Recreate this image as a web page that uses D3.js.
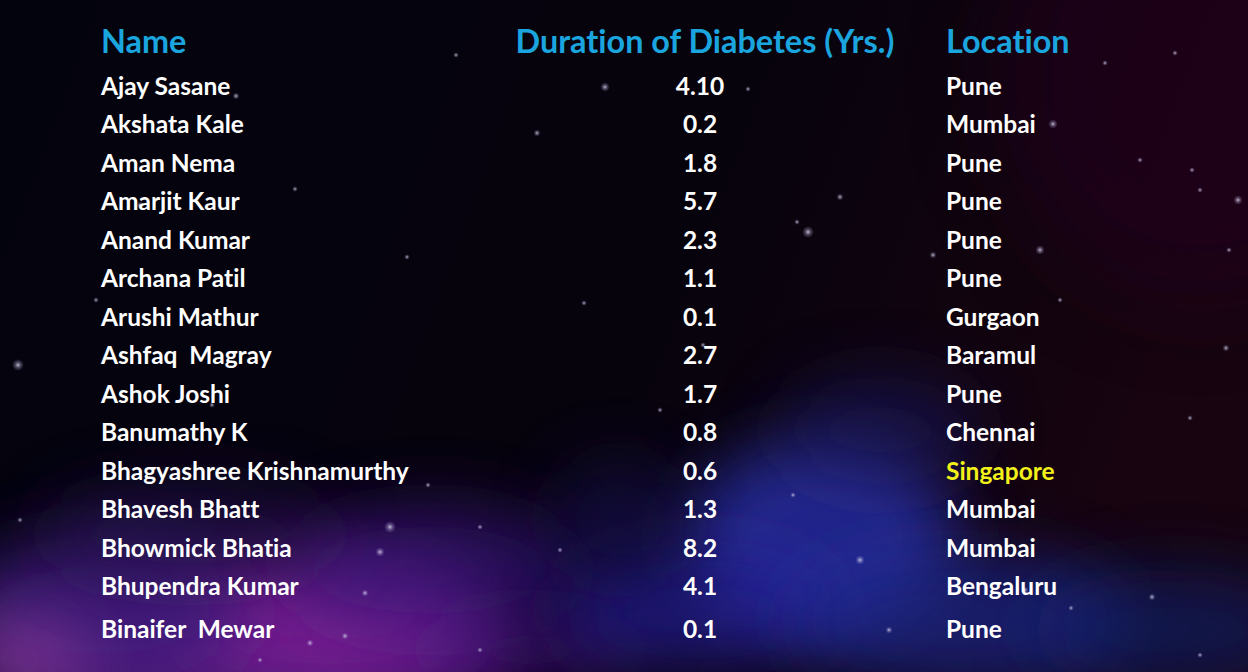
<!DOCTYPE html>
<html><head><meta charset="utf-8">
<script src="https://cdn.jsdelivr.net/npm/d3@7"></script>
<style>html,body{margin:0;padding:0;background:#05030d;overflow:hidden} text{font-variant-ligatures:none;font-feature-settings:"liga" 0}</style>
</head><body>
<svg id="chart" width="1248" height="672"></svg>
<script>
const headers = ["Name", "Duration of Diabetes (Yrs.)", "Location"];
const names = ["Ajay Sasane","Akshata Kale","Aman Nema","Amarjit Kaur","Anand Kumar","Archana Patil","Arushi Mathur","Ashfaq  Magray","Ashok Joshi","Banumathy K","Bhagyashree Krishnamurthy","Bhavesh Bhatt","Bhowmick Bhatia","Bhupendra Kumar","Binaifer  Mewar"];
const durations = ["4.10","0.2","1.8","5.7","2.3","1.1","0.1","2.7","1.7","0.8","0.6","1.3","8.2","4.1","0.1"];
const locations = ["Pune","Mumbai","Pune","Pune","Pune","Pune","Gurgaon","Baramul","Pune","Chennai","Singapore","Mumbai","Mumbai","Bengaluru","Pune"];
const highlightLocation = "Singapore";

const W = 1248, H = 672;
const svg = d3.select("#chart");
const defs = svg.append("defs");

// background
const bg = defs.append("linearGradient").attr("id","bgGrad").attr("x1","0").attr("y1","0").attr("x2","1").attr("y2","0.2");
bg.append("stop").attr("offset","0").attr("stop-color","#03030e");
bg.append("stop").attr("offset","0.6").attr("stop-color","#07030d");
bg.append("stop").attr("offset","1").attr("stop-color","#170410");
svg.append("rect").attr("width",W).attr("height",H).attr("fill","url(#bgGrad)");

defs.append("filter").attr("id","blurBig").attr("x","-60%").attr("y","-60%").attr("width","220%").attr("height","220%")
  .append("feGaussianBlur").attr("stdDeviation",45);
defs.append("filter").attr("id","blurMid").attr("x","-60%").attr("y","-60%").attr("width","220%").attr("height","220%")
  .append("feGaussianBlur").attr("stdDeviation",32);

const neb = svg.append("g");
neb.append("ellipse").attr("cx",1200).attr("cy",80).attr("rx",200).attr("ry",220).attr("fill","#24051a").attr("opacity",0.6).attr("filter","url(#blurBig)");
// purple nebula bottom-left
const purple = [
  [250,650,260,75,"#5e1a8a",0.9],
  [330,615,150,60,"#842496",0.8],
  [100,610,150,75,"#3c1a7a",0.8],
  [20,660,70,40,"#8a3a9a",0.7],
  [430,570,150,65,"#38167a",0.7],
  [530,650,110,40,"#44187e",0.6],
  [190,535,150,50,"#2a1258",0.6]
];
purple.forEach(p=>neb.append("ellipse").attr("cx",p[0]).attr("cy",p[1]).attr("rx",p[2]).attr("ry",p[3]).attr("fill",p[4]).attr("opacity",p[5]).attr("filter","url(#blurMid)"));
// blue nebula bottom right
const blue = [
  [820,535,135,95,"#2c30aa",0.8],
  [700,610,140,60,"#2824a0",0.65],
  [960,620,170,70,"#1a2a96",0.65],
  [1170,630,140,60,"#102070",0.6],
  [880,430,100,55,"#1a1a6c",0.5],
  [620,520,70,60,"#1e1866",0.45]
];
blue.forEach(p=>neb.append("ellipse").attr("cx",p[0]).attr("cy",p[1]).attr("rx",p[2]).attr("ry",p[3]).attr("fill",p[4]).attr("opacity",p[5]).attr("filter","url(#blurMid)"));

// stars (decorative, fixed positions)
const stars = [[18,365,2.5],[140,205,1.5],[236,96,1.5],[295,189,1.2],[390,527,2.5],[407,257,1.2],[456,55,1.2],[537,133,1.5],[584,303,1.2],[605,87,2],[748,89,1.2],[808,232,2.5],[840,197,1.5],[797,222,1.2],[1040,250,2],[1053,124,2],[1226,348,1.5],[1200,190,1.2],[1192,170,1.2],[1175,53,1.2],[1025,590,1.5],[960,392,1.2],[1000,440,1.2],[1152,597,1.5],[1071,608,1.2],[889,630,1.5],[1200,655,1.2],[345,636,1.5],[260,660,1.2],[310,643,1.5],[288,588,1.2],[365,593,1.5],[380,552,2],[428,485,1.2],[480,527,1.2],[20,520,1.2],[560,550,1.2],[480,650,1.2],[703,345,1.2],[933,255,1.5],[1060,300,1.2],[860,560,2],[793,495,1.2],[1229,250,1.2],[1190,418,1.2],[660,410,1.2],[96,300,1.2],[212,405,1.2],[1140,160,1.2],[1105,63,1.2],[1238,200,2]];
const starGrad = defs.append("radialGradient").attr("id","star");
starGrad.append("stop").attr("offset","0").attr("stop-color","#ffffff").attr("stop-opacity",0.75);
starGrad.append("stop").attr("offset","0.4").attr("stop-color","#c8c0e8").attr("stop-opacity",0.4);
starGrad.append("stop").attr("offset","1").attr("stop-color","#a090d0").attr("stop-opacity",0);
svg.append("g").selectAll("circle").data(stars).join("circle")
  .attr("cx",d=>d[0]).attr("cy",d=>d[1]).attr("r",d=>d[2]*2.4).attr("fill","url(#star)");

// layout scales
const col = d3.scaleOrdinal().domain(headers).range([101, 705, 946]);
const rowY = d3.scaleLinear().domain([0, names.length-2, names.length-1]).range([95, 595, 638]);

const font = "Lato, 'Open Sans', sans-serif";
const g = svg.append("g").attr("font-family", font);

g.selectAll("text.h").data(headers).join("text").attr("class","h")
  .attr("x", d=>col(d)).attr("y", 53)
  .attr("text-anchor", (d,i)=> i===1 ? "middle" : "start")
  .attr("font-size", 32.4).attr("font-weight", 700).attr("fill", "#1ba5df")
  .text(d=>d);

const rows = names.map((n,i)=>({name:n, dur:durations[i], loc:locations[i], i}));
const rg = g.selectAll("g.row").data(rows).join("g").attr("class","row")
  .attr("transform", d=>`translate(0,${rowY(d.i)})`)
  .attr("font-size", 24.5).attr("font-weight", 700);
rg.append("text").attr("x", col(headers[0])).attr("fill","#ffffff").attr("xml:space","preserve").style("white-space","pre").text(d=>d.name);
rg.append("text").attr("x", 700).attr("text-anchor","middle").attr("fill","#ffffff").text(d=>d.dur);
rg.append("text").attr("x", col(headers[2])).attr("fill", d=>d.loc===highlightLocation ? "#f2f21a" : "#ffffff").text(d=>d.loc);
</script>
</body></html>
